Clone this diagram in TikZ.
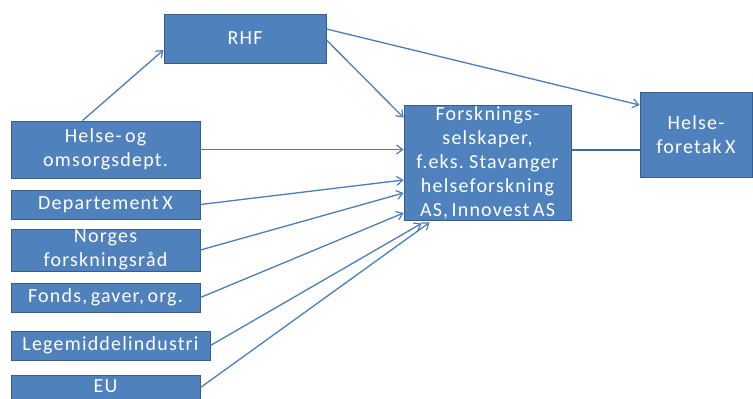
\documentclass[tikz,border=0pt]{standalone}
\usepackage{fontspec}
\setmainfont{Carlito}[LetterSpace=6,WordSpace=0.6]
\usetikzlibrary{arrows.meta}
\definecolor{boxfill}{HTML}{4F81BD}
\definecolor{boxline}{HTML}{385D8A}
\definecolor{arr}{HTML}{4A7EBB}
\tikzset{
  box/.style={draw=boxline, fill=boxfill, line width=0.9pt, inner sep=0pt, align=center,
    text=white, font=\fontsize{20}{24}\selectfont},
  conn/.style={draw=arr, line width=1.3pt, -{Straight Barb[length=6pt,width=9pt,line width=1.2pt]}},
  link/.style={draw=arr!85!black, line width=2.6pt}
}
\begin{document}
\begin{tikzpicture}[x=1pt,y=-1pt]
\useasboundingbox (0,0) rectangle (753,399);
\begin{scope}
\clip (0,0) rectangle (753,399);
\node[box, minimum width=162pt, minimum height=49pt] (rhf) at (245,38.5) {RHF};
\node[box, minimum width=189pt, minimum height=57pt] (hod) at (105.5,149.5) {Helse- og\\omsorgsdept.};
\node[box, minimum width=189pt, minimum height=29pt] (depx) at (105.5,204.5) {Departement X};
\node[box, minimum width=189pt, minimum height=42pt] (nfr) at (105.5,250) {Norges\\forskningsråd};
\node[box, minimum width=189pt, minimum height=29pt] (fonds) at (105.5,297.5) {Fonds, gaver, org.};
\node[box, minimum width=199pt, minimum height=29pt] (leg) at (110.5,345.5) {Legemiddelindustri};
\node[box, minimum width=189pt, minimum height=36pt] (eu) at (105.5,393) {\raisebox{6.5pt}[\height][\depth]{EU}};
\node[box, minimum width=167pt, minimum height=115pt] (forsk) at (487.5,162.5) {Forsknings-\\selskaper,\\f.eks. Stavanger\\helseforskning\\AS, Innovest AS};
\node[box, minimum width=112pt, minimum height=85pt] (hfx) at (696,134.5) {Helse-\\foretak X};

\draw[conn] ([xshift=72pt]hod.north west) -- ([yshift=-11.5pt]rhf.west);
\draw[conn] ([yshift=-1.5pt]rhf.east) -- ([yshift=-13pt]forsk.north west);
\draw[conn] ([yshift=9.5pt]rhf.east) -- ([yshift=29.5pt]hfx.west);
\draw[conn] (hod.east) -- (hod.east -| forsk.west);
\draw[conn] (depx.east) -- ([yshift=-17.5pt]forsk.west);
\draw[conn] (nfr.east) -- ([yshift=-30.5pt]forsk.west);
\draw[conn] (fonds.east) -- ([yshift=-50.5pt]forsk.west);
\draw[conn] (leg.east) -- ([xshift=18pt,yshift=-3pt]forsk.south west);
\draw[conn] ([yshift=-13pt]eu.north east) -- ([xshift=26pt,yshift=-2pt]forsk.south west);
\draw[link] ([yshift=12.5pt]forsk.east) -- ([yshift=12.5pt]forsk.east -| hfx.west);
\end{scope}
\end{tikzpicture}
\end{document}
